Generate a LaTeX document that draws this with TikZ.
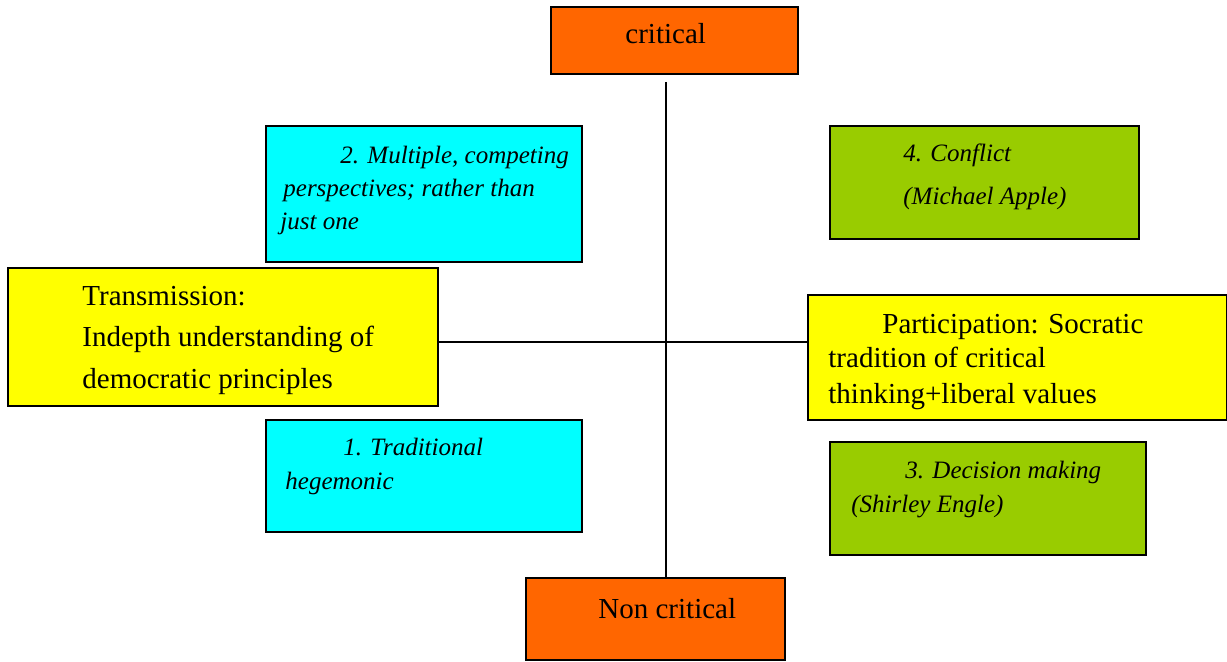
\documentclass[tikz,border=0pt]{standalone}
\usepackage{fontspec}
\setmainfont{Liberation Serif}
\usepackage{tikz}

\definecolor{orangebox}{HTML}{FF6600}
\definecolor{cyanbox}{HTML}{00FFFF}
\definecolor{greenbox}{HTML}{99CC00}
\definecolor{yellowbox}{HTML}{FFFF00}

\tikzset{
  quad/.style={draw, line width=1pt, inner sep=0pt},
  txt/.style={anchor=base west, inner sep=0pt, font=\fontsize{14.5}{16}\selectfont},
  itxt/.style={txt, font=\fontsize{12.5}{15}\selectfont\itshape}
}

\begin{document}
\begin{tikzpicture}[x=0.5pt, y=-0.5pt]
      \useasboundingbox (0,0) rectangle (1227,662);
      % axis boxes
      \node[quad, fill=orangebox, minimum width=123.5pt,
        minimum height=33.5pt] (crit) at (674.5,40.5) {};
      \node[quad, fill=orangebox, minimum width=129.5pt,
        minimum height=41pt] (noncrit) at (655.5,619) {};
      \node[quad, fill=yellowbox, minimum width=215pt,
        minimum height=69pt] (trans) at (223,337) {};
      \node[quad, fill=yellowbox, minimum width=209.5pt,
        minimum height=62.5pt] (part) at (1017.5,357.5) {};
      % quadrant boxes
      \node[quad, fill=cyanbox, minimum width=158pt,
        minimum height=68pt] (persp) at (424,194) {};
      \node[quad, fill=cyanbox, minimum width=158pt,
        minimum height=56pt] (trad) at (424,476) {};
      \node[quad, fill=greenbox, minimum width=154.5pt,
        minimum height=56.5pt] (conflict) at (984.5,182.5) {};
      \node[quad, fill=greenbox, minimum width=158pt,
        minimum height=56.5pt] (decision) at (988,498.5) {};
      % axes
      \coordinate (vtop) at (666,82);
      \coordinate (hmid) at (666,342);
      \draw[line width=1pt] (vtop) -- (vtop |- noncrit.north);
      \draw[line width=1pt] (trans.east |- hmid) -- (part.west |- hmid);
      % texts
      \node[txt] (critlbl) at (625,44) {critical};
      \node[txt] (noncritlbl) at (598,618) {Non critical};
      \node[txt] (trans1) at (82,306) {Transmission:};
      \node[txt] (trans2) at (82,347) {Indepth understanding of};
      \node[txt] (trans3) at (82,389) {democratic principles};
      \node[txt] (part1) at (882,334) {Participation: Socratic};
      \node[txt] (part2) at (828,368) {tradition of critical};
      \node[txt] (part3) at (828,404) {thinking+liberal values};
      \node[itxt] (persp1) at (340,164) {2. Multiple, competing};
      \node[itxt] (persp2) at (283,197) {perspectives; rather than};
      \node[itxt] (persp3) at (280,230) {just one};
      \node[itxt] (trad1) at (343,456) {1. Traditional};
      \node[itxt] (trad2) at (285,490) {hegemonic};
      \node[itxt] (confl1) at (903,162) {4. Conflict};
      \node[itxt] (confl2) at (903,205) {(Michael Apple)};
      \node[itxt] (dec1) at (905,479) {3. Decision making};
      \node[itxt] (dec2) at (851,513) {(Shirley Engle)};
    \end{tikzpicture}
\end{document}
